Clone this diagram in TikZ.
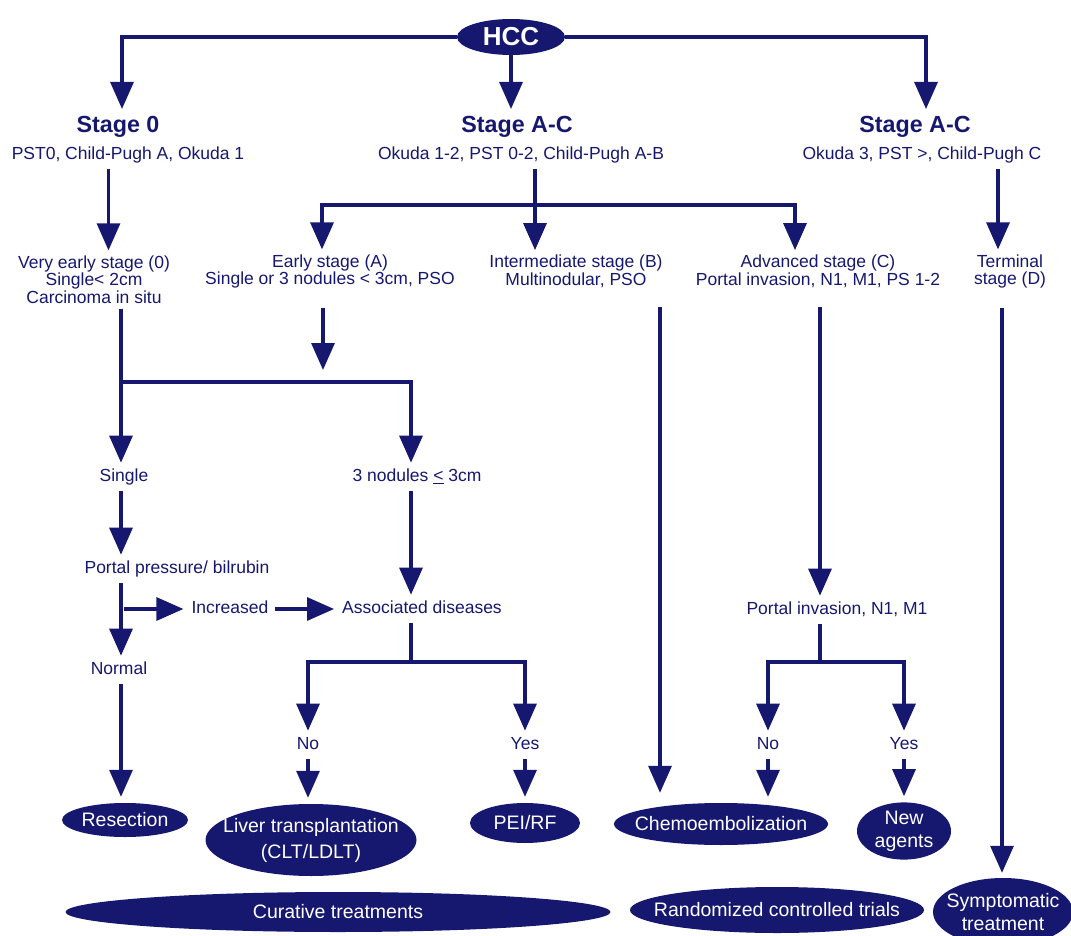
\documentclass[tikz,border=0pt]{standalone}
\usepackage{fontspec}
\setmainfont{Liberation Sans}
\usetikzlibrary{shapes.geometric, arrows.meta}
\definecolor{hccnavy}{RGB}{22,24,112}
\newcommand{\lblfont}{\fontsize{17.5}{17.5}\selectfont}
\newcommand{\ttlfont}{\fontsize{23.3}{25}\selectfont\bfseries}
\newcommand{\hccfont}{\fontsize{26}{28}\selectfont\bfseries}
\newcommand{\ovalfont}{\fontsize{19.5}{23}\selectfont}
\newcommand{\ovaltext}[1]{\makebox[0pt]{#1}}
\tikzset{
    flow/.style={draw=hccnavy, line width=3.2pt},
    arr/.style={flow, -{Triangle[width=23pt,length=27pt]}},
    lbl/.style={text=hccnavy, font=\lblfont, inner xsep=2pt, inner ysep=6pt, text height=12.6pt, text depth=3.7pt},
    lbls/.style={text=hccnavy, font=\lblfont, align=center, inner xsep=2pt, inner ysep=5pt},
    ttl/.style={text=hccnavy, font=\ttlfont, inner ysep=7pt, text height=16.7pt, text depth=4.9pt},
    oval/.style={ellipse, fill=hccnavy, text=white, font=\ovalfont, inner sep=0pt, align=center}
}
\begin{document}
\begin{tikzpicture}[x=1pt, y=-1pt]
    \useasboundingbox (0,0) rectangle (1071,936);
    \clip (0,0) rectangle (1071,936);
    \fill[white] (0,0) rectangle (1071,936);
    % Raiz e estagios
    \node[oval, font=\hccfont, minimum width=108pt, minimum height=36pt] (hcc) at (511,37) {HCC};
    \node[ttl] (st0) at (118,127) {Stage 0};
    \node[ttl] (stB) at (517,127) {Stage A-C};
    \node[ttl] (stC) at (915,127) {Stage A-C};
    \node[lbl] (st0info) at (128,155) {PST0, Child-Pugh A, Okuda 1};
    \node[lbl] (stBinfo) at (521,155) {Okuda 1-2, PST 0-2, Child-Pugh A-B};
    \node[lbl] (stCinfo) at (922,155) {Okuda 3, PST >, Child-Pugh C};
    \draw[arr] (hcc.west) -| ([xshift=4pt]st0.north);
    \draw[arr] (hcc.south) -- (hcc.south |- stB.north);
    \draw[arr] (hcc.east) -| ([xshift=11pt]stC.north);
    % Subestagios
    \node[lbls] (vearly) at (94,279.5) {Very early stage (0)\\Single< 2cm\\Carcinoma in situ};
    \node[lbls] (early) at (330,271.5) {Early stage (A)\\Single or 3 nodules < 3cm, PSO};
    \node[lbls] (interm) at (576,271.5) {Intermediate stage (B)\\Multinodular, PSO};
    \node[lbls] (adv) at (818,271.5) {Advanced stage (C)\\Portal invasion, N1, M1, PS 1-2};
    \node[lbls] (term) at (1010,271.5) {Terminal\\stage (D)};
    \coordinate (jB) at (535,205);
    \draw[arr] ([xshift=-19.5pt]st0info.south) -- ([xshift=14.5pt]vearly.north);
    \draw[flow] (stBinfo.south -| jB) -- (jB);
    \draw[arr] (jB) -- (jB |- interm.north);
    \draw[arr] (jB) -| ([xshift=-8pt]early.north);
    \draw[arr] (jB) -| ([xshift=-23pt]adv.north);
    \draw[arr] ([xshift=76pt]stCinfo.south) -- ([xshift=-12pt]term.north);
    % Estagio muito inicial / inicial
    \coordinate (jL) at (121,382);
    \coordinate (jE) at (411,382);
    \node[lbl] (single) at (124,477) {Single};
    \node[lbl] (nod3) at (417,477) {3 nodules \underline{<} 3cm};
    \draw[arr, shorten <=14pt, shorten >=12pt] ([xshift=-7pt]early.south) -- ([xshift=-7pt]early.south |- jL);
    \draw[flow] (vearly.south -| jL) -- (jL);
    \draw[arr] (jL) -- (jL |- single.north);
    \draw[arr] (jL) -| (jE |- nod3.north);
    \node[lbl] (portal) at (177,569) {Portal pressure/ bilrubin};
    \node[lbl] (normal) at (119,670) {Normal};
    \node[lbl] (incr) at (230,609) {Increased};
    \node[lbl] (assoc) at (422,609) {Associated diseases};
    \coordinate (jP) at (121,609);
    \draw[arr] (single.south -| jL) -- (jL |- portal.north);
    \draw[arr] (portal.south -| jL) -- (jL |- normal.north);
    \draw[arr, shorten <=3pt, shorten >=6pt] (jP) -- (incr.west);
    \draw[arr, shorten <=4pt, shorten >=6pt] (incr.east) -- (assoc.west);
    \draw[arr] (nod3.south -| jE) -- (jE |- assoc.north);
    % Doencas associadas
    \coordinate (jA) at (411,662);
    \node[lbl] (no1) at (308,745) {No};
    \node[lbl] (yes1) at (525,745) {Yes};
    \draw[flow] (assoc.south -| jA) -- (jA);
    \draw[arr] (jA) -| (no1.north);
    \draw[arr] (jA) -| (yes1.north);
    % Estagio avancado
    \node[lbl] (pinv) at (837,610) {Portal invasion, N1, M1};
    \coordinate (jC) at (820,662);
    \node[lbl] (no2) at (768,745) {No};
    \node[lbl] (yes2) at (904,745) {Yes};
    \draw[arr, shorten <=14pt] ([xshift=2pt]adv.south) -- ([xshift=2pt]adv.south |- pinv.north);
    \draw[flow] (pinv.south -| jC) -- (jC);
    \draw[arr] (jC) -| (no2.north);
    \draw[arr] (jC) -| (yes2.north);
    % Tratamentos
    \node[oval, minimum width=126pt, minimum height=34pt] (resect) at (125,820) {\ovaltext{Resection}};
    \node[oval, minimum width=211pt, minimum height=72pt, font=\fontsize{19.5}{26}\selectfont] (liver) at (311,840) {\ovaltext{Liver transplantation}\\\ovaltext{(CLT/LDLT)}};
    \node[oval, minimum width=110pt, minimum height=40pt] (pei) at (525,823) {\ovaltext{PEI/RF}};
    \node[oval, minimum width=214pt, minimum height=42pt] (chemo) at (721,824) {\ovaltext{Chemoembolization}};
    \node[oval, minimum width=94pt, minimum height=57pt] (newag) at (904,831) {\ovaltext{New}\\\ovaltext{agents}};
    \node[oval, minimum width=545pt, minimum height=40pt] (cur) at (338,912) {\ovaltext{Curative treatments}};
    \node[oval, minimum width=294pt, minimum height=46pt] (rct) at (777,910) {\ovaltext{Randomized controlled trials}};
    \node[oval, minimum width=140pt, minimum height=68pt] (sympt) at (1003,912) {\ovaltext{Symptomatic}\\\ovaltext{treatment}};
    \draw[arr, shorten >=6pt] (normal.south -| jL) -- (jL |- resect.north);
    \draw[arr, shorten >=6pt] (no1.south) -- (no1.south |- liver.north);
    \draw[arr, shorten >=6pt] (yes1.south) -- (yes1.south |- pei.north);
    \draw[arr, shorten <=14pt, shorten >=10pt] ([xshift=84pt]interm.south) -- ([xshift=84pt]interm.south |- chemo.north);
    \draw[arr, shorten >=6pt] (no2.south) -- (no2.south |- chemo.north);
    \draw[arr, shorten >=6pt] (yes2.south) -- (yes2.south |- newag.north);
    \draw[arr, shorten <=14pt, shorten >=5pt] ([xshift=-8pt]term.south) -- ([xshift=-8pt]term.south |- sympt.north);
\end{tikzpicture}
\end{document}
